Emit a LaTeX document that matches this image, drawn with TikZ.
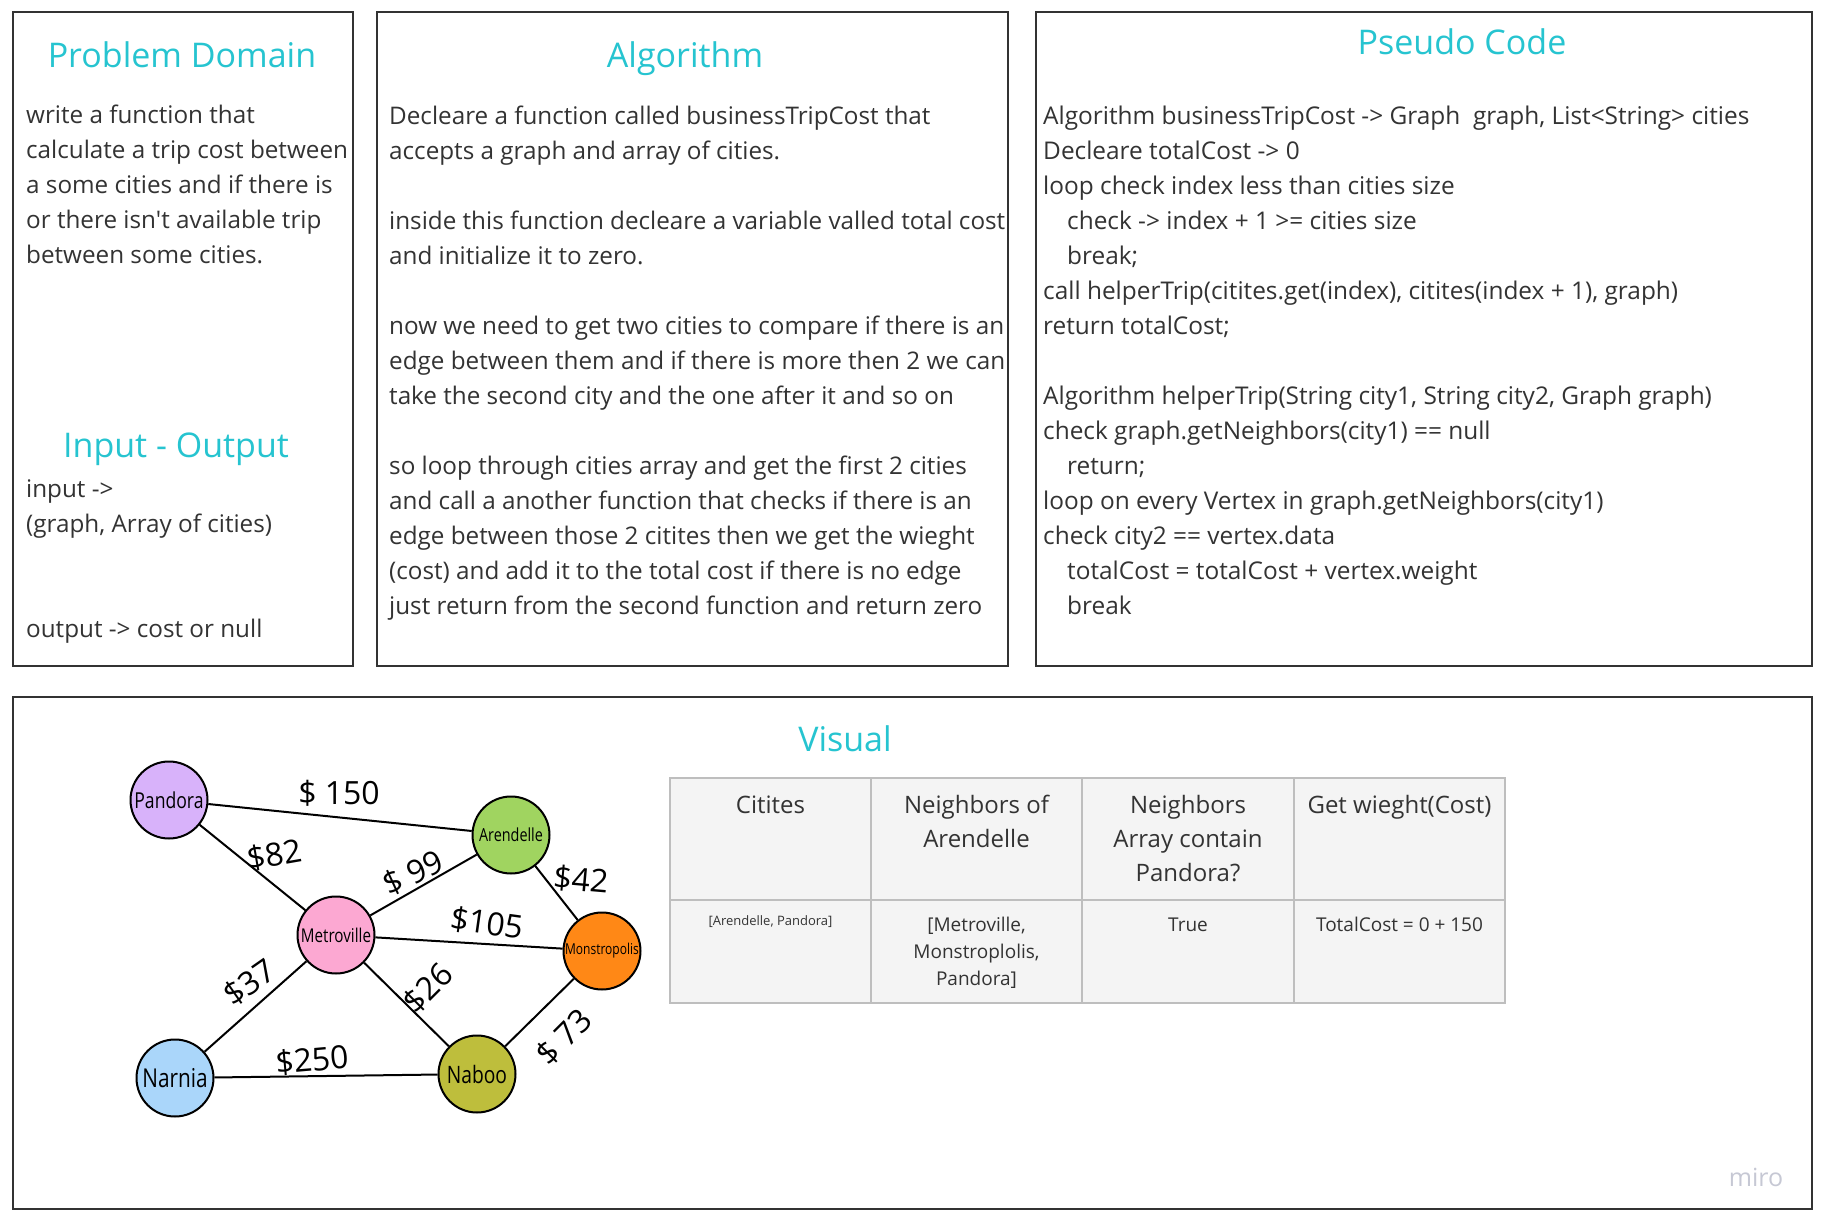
\documentclass[tikz,border=0pt]{standalone}
\usepackage{fontspec}
\setmainfont{Open Sans}
\newfontfamily\manoscritto[FakeStretch=0.8]{Open Sans}
\definecolor{titolocol}{RGB}{38,196,208}
\definecolor{testocol}{RGB}{51,51,51}
\definecolor{tabfondo}{RGB}{244,244,244}
\definecolor{tabbordo}{RGB}{190,190,190}
\definecolor{mirocol}{RGB}{198,200,212}
\definecolor{viola}{RGB}{216,178,250}
\definecolor{verde}{RGB}{160,212,96}
\definecolor{rosa}{RGB}{252,168,210}
\definecolor{arancio}{RGB}{255,136,22}
\definecolor{azzurro}{RGB}{170,214,250}
\definecolor{oliva}{RGB}{190,190,60}
\begin{document}
\begin{tikzpicture}[x=1pt,y=-1pt]
	\tikzset{
		riquadro/.style={draw=black!80, line width=2.5pt},
		titolo/.style={anchor=base, inner sep=0pt, text=titolocol, font=\fontsize{34}{40}\selectfont},
		testo/.style={anchor=base west, inner sep=0pt, align=left, text=testocol, font=\fontsize{24.25}{35}\selectfont},
		cella/.style={anchor=base, inner sep=0pt, align=center, text=testocol, font=\fontsize{24}{34}\selectfont},
		griglia/.style={draw=tabbordo, line width=2pt},
		citta/.style={circle, draw, line width=2pt, minimum size=77pt, inner sep=0pt, font=\manoscritto\fontsize{20}{20}\selectfont},
		arco/.style={line width=2pt},
		costo/.style={inner sep=0pt, font=\fontsize{32}{32}\selectfont}
	}
	\useasboundingbox (0,0) rectangle (1828,1230);
	\fill[white] (0,0) rectangle (1828,1230);
	
	% Riquadri
	\draw[riquadro] (13,12) rectangle (353,666);
	\draw[riquadro] (377,12) rectangle (1008,666);
	\draw[riquadro] (1036,12) rectangle (1812,666);
	\draw[riquadro] (13,697) rectangle (1812,1209);
	
	% Titoli
	\node[titolo] (tDominio) at (182,68) {Problem Domain};
	\node[titolo] (tAlgoritmo) at (685,68) {Algorithm};
	\node[titolo] (tPseudo) at (1462,55) {Pseudo Code};
	\node[titolo] (tIO) at (176,457) {Input - Output};
	\node[titolo] (tVisual) at (845,751) {Visual};
	
	% Testi (ancorati alla base dell'ultima riga)
	\node[testo] (dominio) at (26,264) {write a function that\\
		calculate a trip cost between\\
		a some cities and if there is\\
		or there isn\textquotesingle t available trip\\
		between some cities.};
	\node[testo] (io) at (26,637) {input ->\\
		(graph, Array of cities)\\[70pt]
		output -> cost or null};
	\node[testo] (algoritmo) at (389,614) {Decleare a function called businessTripCost that\\
		accepts a graph and array of cities.\\[35pt]
		inside this function decleare a variable valled total cost\\
		and initialize it to zero.\\[35pt]
		now we need to get two cities to compare if there is an\\
		edge between them and if there is more then 2 we can\\
		take the second city and the one after it and so on\\[35pt]
		so loop through cities array and get the first 2 cities\\
		and call a another function that checks if there is an\\
		edge between those 2 citites then we get the wieght\\
		(cost) and add it to the total cost if there is no edge\\
		just return from the second function and return zero};
	\node[testo, font=\fontsize{24.4}{35}\selectfont] (pseudo) at (1043,614) {Algorithm businessTripCost -> Graph \ graph, List<String> cities\\
		Decleare totalCost -> 0\\
		loop check index less than cities size\\
		\hspace*{24pt}check -> index + 1 >= cities size\\
		\hspace*{24pt}break;\\
		call helperTrip(citites.get(index), citites(index + 1), graph)\\
		return totalCost;\\[35pt]
		Algorithm helperTrip(String city1, String city2, Graph graph)\\
		check graph.getNeighbors(city1) == null\\
		\hspace*{24pt}return;\\
		loop on every Vertex in graph.getNeighbors(city1)\\
		check city2 == vertex.data\\
		\hspace*{24pt}totalCost = totalCost + vertex.weight\\
		\hspace*{24pt}break};
	
	% Tabella
	\fill[tabfondo] (670,778) rectangle (1505,1003);
	\draw[griglia] (670,778) rectangle (1505,1003);
	\draw[griglia] (670,900) -- (1505,900);
	\foreach \x in {871,1082,1294}
		\draw[griglia] (\x,778) -- (\x,1003);
	\node[cella] (hCitta) at (770.5,813) {Citites};
	\node[cella] (hVicini) at (976.5,847) {Neighbors of\\Arendelle};
	\node[cella] (hContiene) at (1188,881) {Neighbors\\Array contain\\Pandora?};
	\node[cella] (hPeso) at (1399.5,813) {Get wieght(Cost)};
	\node[cella, font=\fontsize{13}{16}\selectfont] (rCitta) at (770.5,925) {[Arendelle, Pandora]};
	\node[cella, font=\fontsize{19}{27}\selectfont] (rVicini) at (976.5,985) {[Metroville,\\Monstroplolis,\\Pandora]};
	\node[cella, font=\fontsize{19}{27}\selectfont] (rContiene) at (1188,931) {True};
	\node[cella, font=\fontsize{19}{27}\selectfont] (rPeso) at (1399.5,931) {TotalCost = 0 + 150};
	
	% Citta
	\node[citta, fill=viola, font=\manoscritto\fontsize{22}{22}\selectfont] (Pandora) at (169,800) {Pandora};
	\node[citta, fill=verde, font=\manoscritto\fontsize{18}{18}\selectfont] (Arendelle) at (511,835) {Arendelle};
	\node[citta, fill=rosa, font=\manoscritto\fontsize{19}{19}\selectfont] (Metroville) at (336,935) {Metroville};
	\node[citta, fill=arancio, font=\manoscritto\fontsize{15}{15}\selectfont] (Monstropolis) at (602,951) {Monstropolis};
	\node[citta, fill=azzurro, font=\manoscritto\fontsize{26}{26}\selectfont] (Narnia) at (175,1078) {Narnia};
	\node[citta, fill=oliva, font=\manoscritto\fontsize{24}{24}\selectfont] (Naboo) at (477,1074) {Naboo};
	
	% Collegamenti
	\draw[arco] (Pandora) -- (Arendelle);
	\draw[arco] (Pandora) -- (Metroville);
	\draw[arco] (Metroville) -- (Arendelle);
	\draw[arco] (Arendelle) -- (Monstropolis);
	\draw[arco] (Metroville) -- (Monstropolis);
	\draw[arco] (Metroville) -- (Narnia);
	\draw[arco] (Metroville) -- (Naboo);
	\draw[arco] (Narnia) -- (Naboo);
	\draw[arco] (Naboo) -- (Monstropolis);
	
	% Costi
	\node[costo] (c150) at (339,793) {\$ 150};
	\node[costo, rotate=10] (c82) at (275,855) {\$82};
	\node[costo, rotate=25] (c99) at (413,873) {\$ 99};
	\node[costo, rotate=-5] (c42) at (581,880) {\$42};
	\node[costo, rotate=-8] (c105) at (487,923) {\$105};
	\node[costo, rotate=35] (c37) at (250,983) {\$37};
	\node[costo, rotate=45] (c26) at (428,988) {\$26};
	\node[costo, rotate=5] (c250) at (312,1060) {\$250};
	\node[costo, rotate=45] (c73) at (564,1037) {\$ 73};
	
	\node[anchor=base, inner sep=0pt, text=mirocol, font=\fontsize{25}{25}\selectfont] (miro) at (1756,1186) {miro};
\end{tikzpicture}
\end{document}
